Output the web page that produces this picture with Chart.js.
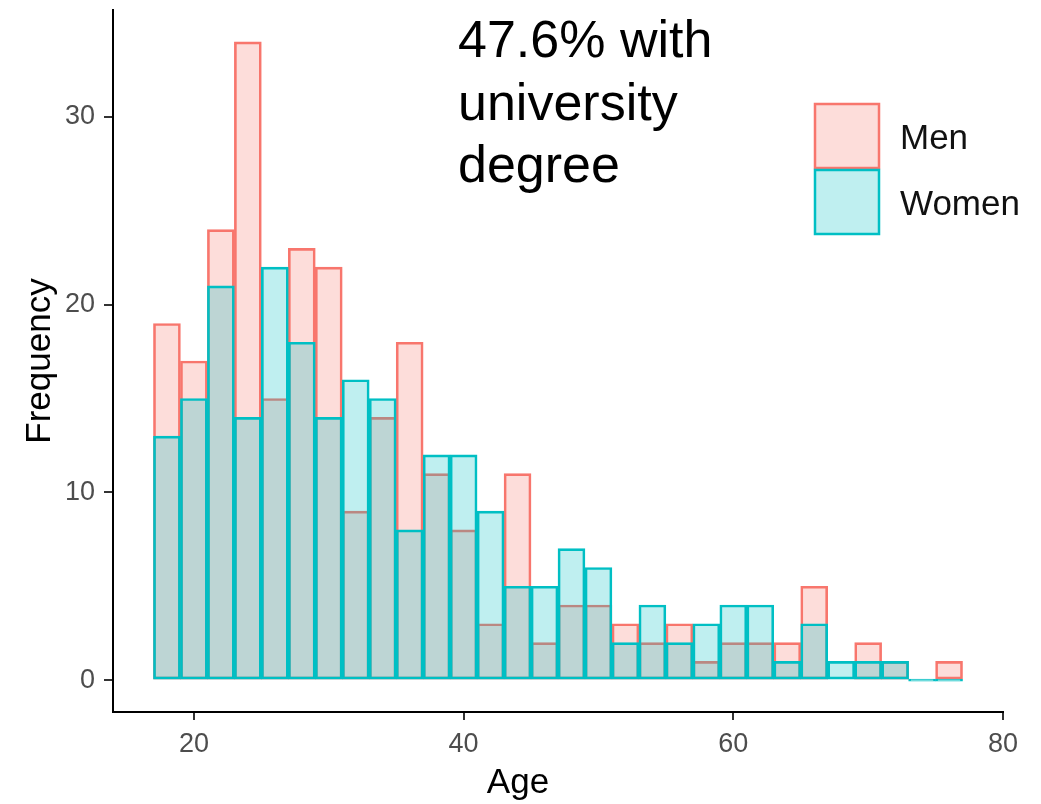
<!DOCTYPE html>
<html>
<head>
<meta charset="utf-8">
<script src="https://cdn.jsdelivr.net/npm/chart.js@4/dist/chart.umd.min.js"></script>
<style>
  html, body { margin: 0; padding: 0; background: #fff; }
  #wrap { width: 1041px; height: 804px; }
</style>
</head>
<body>
<div id="wrap"><canvas id="hist" width="1041" height="804"></canvas></div>
<script>
// bin centres (age), 2-year bins from 17 to 77
const ageBins = [18, 20, 22, 24, 26, 28, 30, 32, 34, 36, 38, 40, 42, 44, 46,
                 48, 50, 52, 54, 56, 58, 60, 62, 64, 66, 68, 70, 72, 74, 76];
const menCounts = [19, 17, 24, 34, 15, 23, 22, 9, 14, 18, 11, 8, 3, 11, 2,
                   4, 4, 3, 2, 3, 1, 2, 2, 2, 5, 0, 2, 1, 0, 1];
const womenCounts = [13, 15, 21, 14, 22, 18, 14, 16, 15, 8, 12, 12, 9, 5, 5,
                     7, 6, 2, 4, 2, 3, 4, 4, 1, 3, 1, 1, 1, 0, 0];
const xTicks = [20, 40, 60, 80];
const yTicks = [0, 10, 20, 30];
const seriesNames = ["Men", "Women"];
const noteLines = ["47.6% with", "university", "degree"];

const MEN_LINE = "#F8766D";
const WOMEN_LINE = "#00BFC4";
const FONT = "'Liberation Sans', Arial, sans-serif";

const overlay = {
  id: "overlay",
  afterDraw(chart) {
    const ctx = chart.ctx;
    const area = chart.chartArea;
    ctx.save();

    // annotation text
    ctx.fillStyle = "#000";
    ctx.font = "52px " + FONT;
    ctx.textAlign = "left";
    ctx.textBaseline = "alphabetic";
    noteLines.forEach((line, i) => ctx.fillText(line, 458, 57 + i * 62.5));

    // legend keys
    const ds = chart.data.datasets;
    const order = [ds.find(d => d.label === seriesNames[0]), ds.find(d => d.label === seriesNames[1])];
    order.forEach((d, i) => {
      const y = 104 + i * 66;
      ctx.fillStyle = "#fff";
      ctx.fillRect(815, y, 64, 64);
      ctx.fillStyle = d.backgroundColor;
      ctx.fillRect(815, y, 64, 64);
      ctx.strokeStyle = d.borderColor;
      ctx.lineWidth = 2.5;
      ctx.strokeRect(815, y, 64, 64);
      ctx.fillStyle = "#111";
      ctx.font = "35px " + FONT;
      ctx.textBaseline = "middle";
      ctx.fillText(d.label, 900, y + 35);
    });

    // axis titles
    ctx.fillStyle = "#000";
    ctx.font = "35px " + FONT;
    ctx.textAlign = "center";
    ctx.textBaseline = "alphabetic";
    ctx.fillText("Age", 518, 793);

    ctx.translate(50, (area.top + area.bottom) / 2);
    ctx.rotate(-Math.PI / 2);
    ctx.fillText("Frequency", 0, 0);
    ctx.restore();
  }
};

new Chart(document.getElementById("hist"), {
  type: "bar",
  data: {
    labels: ageBins,
    datasets: [
      {
        label: seriesNames[0],
        data: ageBins.map((a, i) => ({ x: a, y: menCounts[i] })),
        backgroundColor: "rgba(248, 118, 109, 0.25)",
        borderColor: MEN_LINE,
        borderWidth: 2,
        borderSkipped: false,
        grouped: false,
        barPercentage: 1,
        categoryPercentage: 1,
        order: 1,
      },
      {
        label: seriesNames[1],
        data: ageBins.map((a, i) => ({ x: a, y: womenCounts[i] })),
        backgroundColor: "rgba(0, 191, 196, 0.25)",
        borderColor: WOMEN_LINE,
        borderWidth: 2,
        borderSkipped: false,
        grouped: false,
        barPercentage: 1,
        categoryPercentage: 1,
        minBarLength: 2,
        order: 0,
      },
    ],
  },
  options: {
    responsive: false,
    devicePixelRatio: 1,
    animation: false,
    layout: { padding: { top: 10, right: 38, left: 0, bottom: 0 } },
    plugins: { legend: { display: false }, tooltip: { enabled: false } },
    scales: {
      x: {
        type: "linear",
        min: 14,
        max: 80,
        offset: false,
        afterFit: (s) => { s.height = 92; s.paddingLeft = 0; s.paddingRight = 0; },
        afterBuildTicks: (s) => { s.ticks = xTicks.map(v => ({ value: v })); },
        grid: { offset: false, drawOnChartArea: false, drawTicks: true, tickLength: 8, color: "#333", lineWidth: 2 },
        border: { display: true, color: "#000", width: 2 },
        ticks: { autoSkip: false, maxRotation: 0, padding: 8, color: "#4d4d4d", font: { family: FONT, size: 27 } },
      },
      y: {
        min: -1.7,
        max: 35.7,
        afterFit: (s) => { s.width = 113; s.paddingTop = 0; s.paddingBottom = 0; },
        afterBuildTicks: (s) => { s.ticks = yTicks.map(v => ({ value: v })); },
        grid: { drawOnChartArea: false, drawTicks: true, tickLength: 9, color: "#333", lineWidth: 2 },
        border: { display: true, color: "#000", width: 2 },
        ticks: { padding: 9, color: "#4d4d4d", font: { family: FONT, size: 27 } },
      },
    },
  },
  plugins: [overlay],
});
</script>
</body>
</html>
